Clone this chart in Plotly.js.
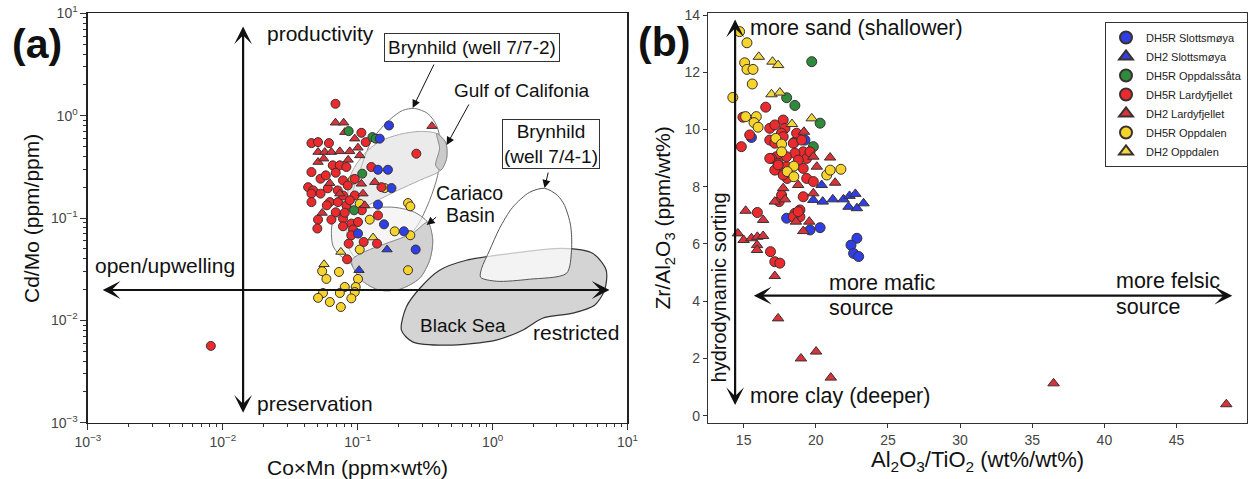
<!DOCTYPE html>
<html><head><meta charset="utf-8">
<script src="https://cdn.plot.ly/plotly-3.0.1.min.js"></script>
<style>html,body{margin:0;padding:0;background:#fff}#chart{width:1248px;height:479px}</style>
</head><body><div id="chart"></div>
<script>
// ---------- Panel (a): Co×Mn vs Cd/Mo (log-log) ----------
const aBlueCircX = [0.1706,0.1456,0.1413,0.1675,0.178,0.1413,0.1567,0.220,0.269,0.1005];
const aBlueCircY = [0.802,0.596,0.296,0.296,0.196,0.135,0.0867,0.0741,0.0492,0.0705];
const aBlueTriX = [0.165,0.1023];
const aBlueTriY = [0.0492,0.0309];
const aGreenCircX = [0.0857,0.1285,0.1358,0.108,0.094];
const aGreenCircY = [0.706,0.617,0.596,0.271,0.119];
const aRedCircX = [0.0684,0.1064,0.0454,0.0508,0.0612,0.1146,0.272,0.0653,0.0737,0.0824,0.1262,0.0454,0.0530,0.0778,0.0429,0.0467,0.150,0.0454,0.0530,0.0454,0.0621,0.0714,0.0778,0.0824,0.0951,0.0508,0.0638,0.0778,0.0897,0.1005,0.1413,0.0502,0.0778,0.0922,0.0897,0.0857,0.1107,0.139,0.0834,0.0580,0.0687,0.0843,0.0951,0.0600,0.0711,0.0873,0.1072,0.0687,0.0802,0.0590,0.00815];
const aRedCircY = [1.306,0.680,0.539,0.551,0.539,0.551,0.425,0.327,0.327,0.315,0.315,0.281,0.242,0.233,0.200,0.186,0.200,0.173,0.173,0.143,0.143,0.143,0.166,0.133,0.166,0.0964,0.0964,0.0987,0.0881,0.0914,0.106,0.0789,0.0830,0.0771,0.0678,0.0562,0.0583,0.0562,0.0395,0.261,0.277,0.208,0.241,0.195,0.186,0.149,0.119,0.1138,0.1127,0.133,0.00563];
const aRedTriX = [0.0684,0.0787,0.0802,0.0508,0.0570,0.0638,0.0737,0.0873,0.1005,0.1035,0.0508,0.0621,0.1064,0.1337,0.0951,0.0545,0.0737,0.1094,0.1127,0.355,0.0560,0.0850];
const aRedTriY = [0.853,0.853,0.690,0.441,0.441,0.441,0.448,0.448,0.486,0.409,0.352,0.219,0.216,0.224,0.596,0.112,0.173,0.173,0.133,0.790,0.38,0.37];
const aYelCircX = [0.0922,0.1585,0.1035,0.236,0.2455,0.1228,0.188,0.2455,0.1035,0.236,0.0545,0.0726,0.0586,0.1005,0.0802,0.0966,0.0553,0.0737,0.0951,0.0508,0.0897,0.0621,0.0750];
const aYelCircY = [0.237,0.196,0.138,0.140,0.130,0.0964,0.0741,0.0678,0.0492,0.0309,0.0302,0.0297,0.0254,0.0254,0.0212,0.0212,0.0185,0.0185,0.0189,0.0166,0.0164,0.0151,0.0135];
const aYelTriX = [0.130,0.0750,0.0563];
const aYelTriY = [0.0644,0.0466,0.0353];

// reference fields (outlines, log10 units)
const blackSeaLogX = [-0.676,-0.639,-0.541,-0.393,-0.195,0.148,0.519,0.741,0.842,0.830,0.756,0.593,0.370,0.222,0.027,-0.343,-0.593];
const blackSeaLogY = [-2.096,-1.868,-1.689,-1.510,-1.413,-1.344,-1.296,-1.344,-1.510,-1.705,-1.852,-1.930,-1.979,-2.096,-2.193,-2.242,-2.210];
const bryn741LogX = [0.385,0.274,0.148,0.052,-0.022,-0.081,-0.089,0.030,0.274,0.548,0.585,0.578,0.533,0.481];
const bryn741LogY = [-0.710,-0.749,-0.896,-1.100,-1.315,-1.491,-1.579,-1.618,-1.598,-1.540,-1.315,-1.071,-0.876,-0.779];
const bryn772LogX = [-0.970,-0.896,-0.778,-0.667,-0.578,-0.481,-0.415,-0.385,-0.407,-0.467,-0.556,-0.689,-0.837,-0.970,-1.059,-1.081,-1.044];
const bryn772LogY = [-0.486,-0.242,-0.057,0.051,0.070,0.021,-0.096,-0.291,-0.583,-0.827,-1.071,-1.266,-1.393,-1.432,-1.315,-1.071,-0.779];
const gulfLogX = [-1.044,-0.948,-0.837,-0.689,-0.541,-0.415,-0.348,-0.341,-0.385,-0.541,-0.704,-0.852,-0.970,-1.044,-1.074];
const gulfLogY = [-0.554,-0.369,-0.252,-0.183,-0.154,-0.174,-0.261,-0.418,-0.534,-0.632,-0.730,-0.827,-0.905,-0.925,-0.779];
const gulfCapLogX = [-0.415,-0.348,-0.341,-0.385,-0.422,-0.393];
const gulfCapLogY = [-0.174,-0.261,-0.418,-0.534,-0.486,-0.320];
const cariacoLogX = [-1.185,-1.096,-0.948,-0.726,-0.578,-0.481,-0.444,-0.467,-0.541,-0.689,-0.837,-0.970,-1.059,-1.133,-1.185];
const cariacoLogY = [-1.042,-0.944,-0.905,-0.896,-0.944,-1.042,-1.218,-1.413,-1.588,-1.696,-1.705,-1.608,-1.432,-1.364,-1.266];
const cariacoGrayLogX = [-1.044,-0.593,-0.481,-0.444,-0.467,-0.541,-0.689,-0.837,-0.970];
const cariacoGrayLogY = [-1.413,-1.149,-1.042,-1.218,-1.413,-1.588,-1.696,-1.705,-1.608];

const aTickVals = [0.001,0.01,0.1,1,10];
const aTickText = ['10<sup>−3</sup>','10<sup>−2</sup>','10<sup>−1</sup>','10<sup>0</sup>','10<sup>1</sup>'];

// ---------- Panel (b): Al2O3/TiO2 vs Zr/Al2O3 ----------
const bBlueCircX = [15.54,19.25,18.5,17.98,19.6,20.3,22.85,22.44,22.62,22.97];
const bBlueCircY = [9.72,9.63,9.55,6.90,6.49,6.57,6.20,5.96,5.67,5.56];
const bBlueTriX = [20.41,19.83,20.48,21.18,21.92,22.34,22.74,22.27,22.85,23.31];
const bBlueTriY = [8.06,7.54,7.48,7.56,7.56,7.68,7.75,7.30,7.25,7.42];
const bGreenCircX = [19.72,17.98,18.55,20.30,19.83];
const bGreenCircY = [12.37,11.11,10.84,10.22,9.40];
const bRedCircX = [14.95,16.53,15.42,14.84,16.81,17.16,17.74,17.86,17.62,16.81,17.16,17.74,18.44,18.67,19.02,19.13,18.55,17.97,17.28,16.93,17.39,17.97,17.74,17.16,19.13,19.37,19.60,18.79,19.37,19.83,19.13,18.55,18.90,18.90,18.44,16.81,17.39,18.02,17.74,17.46,17.63,18.78,15.95,16.86,17.16,17.51];
const bRedCircY = [10.43,10.78,9.81,9.40,10.04,10.16,10.33,10.04,9.87,9.63,9.52,9.75,9.52,9.87,9.63,9.22,9.17,9.05,9.05,8.99,8.82,8.70,8.47,8.58,8.64,8.99,9.22,8.93,8.29,8.18,7.65,7.07,6.95,7.19,6.95,8.99,8.76,8.29,8.41,7.48,7.71,7.13,7.10,5.73,5.38,5.33];
const bRedTriX = [15.14,16.35,17.16,17.86,17.74,18.78,19.83,20.07,19.18,19.83,21.34,19.13,18.62,19.55,18.44,20.99,14.60,15.0,15.54,15.95,16.35,15.93,15.93,17.16,17.39,18.97,20.02,21.04,36.48,48.45];
const bRedTriY = [7.16,6.84,7.48,7.56,7.95,8.06,7.77,8.70,9.92,9.05,8.14,6.45,6.78,6.78,8.72,9.02,6.37,6.14,6.20,6.25,6.28,5.96,5.79,4.88,3.40,2.0,2.24,1.33,1.13,0.40];
const bYelCircX = [14.72,15.23,15.07,15.23,15.65,15.6,14.25,15.14,15.88,15.72,16.0,17.23,17.63,17.63,18.48,18.02,18.48,20.76,21.0,21.74];
const bYelCircY = [13.42,13.03,12.33,12.10,12.10,11.59,11.12,10.45,10.45,10.24,10.08,9.69,9.49,9.22,8.72,8.53,8.35,8.41,8.58,8.61];
const bYelTriX = [16.05,17.0,17.39,16.93,17.51,18.35,19.72];
const bYelTriY = [12.54,12.37,12.25,11.23,11.29,10.19,10.39];

const seriesNames = ['DH5R Slottsmøya','DH2 Slottsmøya','DH5R Oppdalssåta','DH5R Lardyfjellet','DH2 Lardyfjellet','DH5R Oppdalen','DH2 Oppdalen'];

// ---------- build ----------
const W = 1248, H = 479;
const P = v => v / W, Q = v => 1 - v / H;
const FONT = 'Liberation Sans, Arial, Helvetica, sans-serif';
const BLUE = '#2f3fe6', GREEN = '#2e8b3c', RED = '#ec2a2d', REDT = '#d8333a', YEL = '#f6d42b', YELT = '#f1d83e';
const pow10 = a => a.map(v => Math.pow(10, v));
const close = a => a.concat([a[0]]);

function region(lx, ly, fill, line, lw) {
  return {x: close(pow10(lx)), y: close(pow10(ly)), xaxis: 'x', yaxis: 'y', mode: 'lines',
    fill: 'toself', fillcolor: fill, line: {color: line, width: lw || 1, shape: 'spline', smoothing: 0.8},
    hoverinfo: 'skip', showlegend: false};
}
function pts(x, y, color, sym, size, ax, name, show) {
  return {x: x, y: y, xaxis: ax[0], yaxis: ax[1], mode: 'markers', name: name, showlegend: show,
    marker: {color: color, symbol: sym, size: size, line: {color: '#3a3030', width: 1}}};
}

const traces = [
  region(blackSeaLogX, blackSeaLogY, '#d4d4d4', '#333', 1.2),
  region(bryn741LogX, bryn741LogY, 'rgba(255,255,255,0.72)', '#555', 1),
  region(bryn772LogX, bryn772LogY, 'rgba(255,255,255,0.95)', '#777', 1),
  region(gulfLogX, gulfLogY, 'rgba(222,222,222,0.6)', '#aaa', 1),
  region(gulfCapLogX, gulfCapLogY, '#cacaca', '#888', 1),
  region(cariacoLogX, cariacoLogY, 'rgba(238,238,238,0.6)', '#777', 1),
  region(cariacoGrayLogX, cariacoGrayLogY, '#d2d2d2', '#888', 1),
];
const A = ['x', 'y'], B = ['x2', 'y2'];
traces.push(
  pts(aYelCircX, aYelCircY, YEL, 'circle', 9, A, seriesNames[5], false),
  pts(aYelTriX, aYelTriY, YELT, 'triangle-up', 9, A, seriesNames[6], false),
  pts(aRedCircX, aRedCircY, RED, 'circle', 9, A, seriesNames[3], false),
  pts(aRedTriX, aRedTriY, REDT, 'triangle-up', 9, A, seriesNames[4], false),
  pts(aGreenCircX, aGreenCircY, GREEN, 'circle', 9, A, seriesNames[2], false),
  pts(aBlueCircX, aBlueCircY, BLUE, 'circle', 9, A, seriesNames[0], false),
  pts(aBlueTriX, aBlueTriY, BLUE, 'triangle-up', 9, A, seriesNames[1], false),
  pts(bBlueCircX, bBlueCircY, BLUE, 'circle', 10, B, seriesNames[0], true),
  pts(bBlueTriX, bBlueTriY, BLUE, 'triangle-up', 10, B, seriesNames[1], true),
  pts(bGreenCircX, bGreenCircY, GREEN, 'circle', 10, B, seriesNames[2], true),
  pts(bRedCircX, bRedCircY, RED, 'circle', 10, B, seriesNames[3], true),
  pts(bRedTriX, bRedTriY, REDT, 'triangle-up', 10, B, seriesNames[4], true),
  pts(bYelCircX, bYelCircY, YEL, 'circle', 10, B, seriesNames[5], true),
  pts(bYelTriX, bYelTriY, YELT, 'triangle-up', 10, B, seriesNames[6], true)
);

const minorA = [];
for (let e = -3; e < 1; e++) for (let m = 2; m <= 9; m++) minorA.push(m * Math.pow(10, e));

const axBase = {showgrid: false, zeroline: false, showline: true, mirror: true, linecolor: '#222', linewidth: 1.5,
  ticks: 'outside', ticklen: 6, tickwidth: 1, tickcolor: '#333', tickfont: {family: FONT, size: 14, color: '#444'}};

function txt(x, y, text, size, opts) {
  return Object.assign({xref: 'paper', yref: 'paper', x: P(x), y: Q(y), text: text, showarrow: false,
    xanchor: 'center', yanchor: 'middle', font: {family: FONT, size: size, color: '#111'}}, opts || {});
}
function arr(x, y, ax, ay, opts) {
  return Object.assign({xref: 'paper', yref: 'paper', x: P(x), y: Q(y), ax: ax, ay: ay, text: '', showarrow: true,
    arrowcolor: '#111', arrowhead: 2, arrowsize: 1.6, arrowwidth: 1}, opts || {});
}
const big = {arrowside: 'end+start', arrowhead: 3, arrowsize: 1.35, arrowwidth: 2.2};

const annotations = [
  // panel a
  txt(37, 44, '<b>(a)</b>', 41),
  txt(265, 33, 'productivity', 21, {xanchor: 'left'}),
  txt(93, 265, 'open/upwelling', 21, {xanchor: 'left'}),
  txt(255, 403, 'preservation', 21, {xanchor: 'left'}),
  txt(531, 332, 'restricted', 21, {xanchor: 'left'}),
  txt(418, 325, 'Black Sea', 19, {xanchor: 'left'}),
  txt(470, 193, 'Cariaco', 19.5),
  txt(471, 215, 'Basin', 19.5),
  txt(452, 90, 'Gulf of Califonia', 19, {xanchor: 'left'}),
  txt(472.5, 48, 'Brynhild (well 7/7-2)', 19, {bordercolor: '#333', borderwidth: 1, borderpad: 3, bgcolor: '#fff'}),
  txt(551.7, 144, 'Brynhild<br>(well 7/4-1)', 19, {bordercolor: '#333', borderwidth: 1, borderpad: 1, bgcolor: '#fff'}),
  txt(31, 218, 'Cd/Mo (ppm/ppm)', 21, {textangle: -90}),
  txt(358, 467, 'Co×Mn (ppm×wt%)', 21),
  arr(243.3, 412.7, 0, -387.7, big),
  arr(610, 290, -508.3, 0, big),
  arr(413, 108, 22, -45),
  arr(447, 145, 23, -42),
  arr(545, 188, 4, -17),
  arr(427, 225, 11, -9),
  // panel b
  txt(665, 42, '<b>(b)</b>', 41),
  txt(749, 28, 'more sand (shallower)', 21.5, {xanchor: 'left'}),
  txt(749, 396, 'more clay (deeper)', 21.5, {xanchor: 'left'}),
  txt(720, 287, 'hydrodynamic sorting', 20, {textangle: -90}),
  txt(828, 283, 'more mafic', 21.5, {xanchor: 'left'}),
  txt(828, 308, 'source', 21.5, {xanchor: 'left'}),
  txt(1115, 281, 'more felsic', 21.5, {xanchor: 'left'}),
  txt(1115, 307, 'source', 21.5, {xanchor: 'left'}),
  txt(665, 218, 'Zr/Al<sub>2</sub>O<sub>3</sub> (ppm/wt%)', 21, {textangle: -90}),
  txt(978, 461, 'Al<sub>2</sub>O<sub>3</sub>/TiO<sub>2</sub> (wt%/wt%)', 22),
  arr(735.7, 405, 0, -387, big),
  arr(1233.3, 295.7, -480, 0, big)
];

const layout = {
  width: W, height: H, margin: {l: 0, r: 0, t: 0, b: 0}, paper_bgcolor: '#fff', plot_bgcolor: '#fff',
  font: {family: FONT, color: '#111'},
  xaxis: Object.assign({}, axBase, {type: 'log', domain: [P(88), P(628)], range: [-3, 1], anchor: 'y',
    tickmode: 'array', tickvals: aTickVals, ticktext: aTickText,
    minor: {tickmode: 'array', tickvals: minorA, ticks: 'outside', ticklen: 3, tickcolor: '#333', showgrid: false}}),
  yaxis: Object.assign({}, axBase, {type: 'log', domain: [Q(422.7), Q(13.3)], range: [-3, 1], anchor: 'x',
    tickmode: 'array', tickvals: aTickVals, ticktext: aTickText,
    minor: {tickmode: 'array', tickvals: minorA, ticks: 'outside', ticklen: 3, tickcolor: '#333', showgrid: false}}),
  xaxis2: Object.assign({}, axBase, {domain: [P(709), P(1247.5)], range: [12.56, 49.85], anchor: 'y2',
    tickmode: 'linear', tick0: 15, dtick: 5, ticklen: 4, linecolor: '#333'}),
  yaxis2: Object.assign({}, axBase, {domain: [Q(422.7), Q(13.3)], range: [-0.245, 14.06], anchor: 'x2',
    tickmode: 'linear', tick0: 0, dtick: 2, ticklen: 4, linecolor: '#333'}),
  showlegend: true,
  legend: {x: P(1106), y: Q(22), xanchor: 'left', yanchor: 'top', bgcolor: '#fff', bordercolor: '#333', borderwidth: 1,
    font: {family: FONT, size: 11, color: '#222'}, itemsizing: 'constant', tracegroupgap: 0, traceorder: 'normal'},
  annotations: annotations
};

Plotly.newPlot('chart', traces, layout, {staticPlot: true, displayModeBar: false});
</script></body></html>
